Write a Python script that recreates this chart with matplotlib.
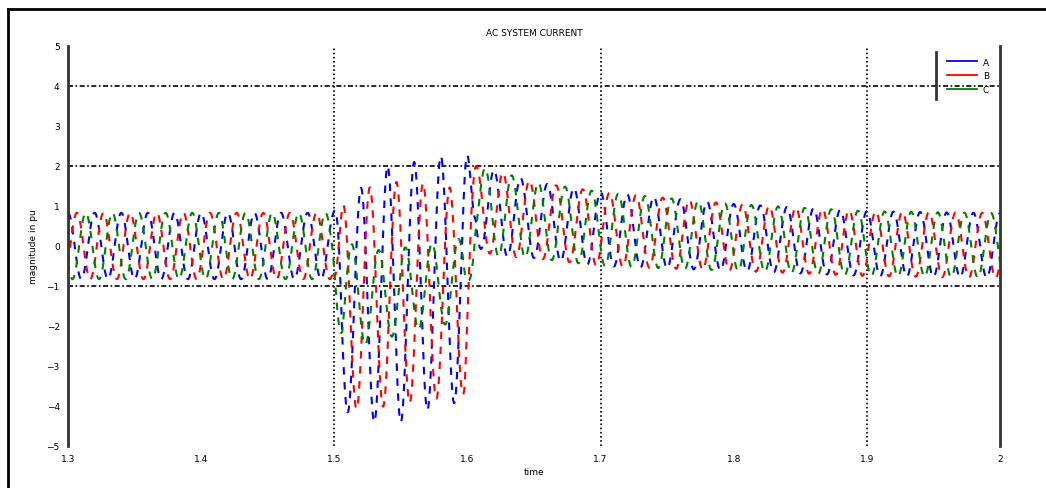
import numpy as np
import matplotlib
matplotlib.use("Agg")
import matplotlib.pyplot as plt
from matplotlib.lines import Line2D

# envelope knots (s) for the three phase currents, in pu
t_knots = [1.300, 1.499, 1.506, 1.520, 1.540, 1.560, 1.580, 1.598,
           1.606, 1.620, 1.650, 1.700, 1.800, 1.900, 2.000]

upper_a = [0.83, 0.83, 1.20, 1.45, 2.00, 2.10, 2.25, 2.35,
           2.00, 1.90, 1.60, 1.35, 1.05, 0.87, 0.82]
lower_a = [-0.83, -0.83, -4.10, -4.30, -4.50, -4.30, -3.90, -3.95,
           0.00, -0.25, -0.30, -0.50, -0.62, -0.75, -0.80]

upper_b = [0.83, 0.83, 1.00, 1.40, 1.60, 1.60, 1.50, 1.40,
           2.00, 1.90, 1.60, 1.35, 1.05, 0.87, 0.82]
lower_b = [-0.83, -0.83, -4.00, -4.10, -4.00, -3.90, -3.80, -3.70,
           0.00, -0.25, -0.30, -0.50, -0.62, -0.75, -0.80]

upper_c = [0.83, 0.83, 0.20, -0.10, -0.10, 0.00, 0.10, 0.20,
           2.00, 1.90, 1.60, 1.35, 1.05, 0.87, 0.82]
lower_c = [-0.83, -0.83, -2.60, -2.50, -2.30, -2.10, -2.00, -1.80,
           0.00, -0.25, -0.30, -0.50, -0.62, -0.75, -0.80]

phase_labels = ["A", "B", "C"]
phase_colors = ["b", "r", "g"]
phase_shift_deg = [0, -120, 120]
f_sys = 50.0

x_ticks = [1.3, 1.4, 1.5, 1.6, 1.7, 1.8, 1.9, 2.0]
x_ticklabels = ["1.3", "1.4", "1.5", "1.6", "1.7", "1.8", "1.9", "2"]
grid_x = [1.5, 1.7, 1.9]
grid_y = [4, 2, -1]


def phase_current(t, upper, lower, shift_deg):
    hi = np.interp(t, t_knots, upper)
    lo = np.interp(t, t_knots, lower)
    mid = 0.5 * (hi + lo)
    half = 0.5 * (hi - lo)
    return mid + half * np.cos(2 * np.pi * f_sys * t + np.deg2rad(shift_deg))


def main():
    t = np.arange(1.3, 2.0 + 1e-9, 0.0001)
    envelopes = [(upper_a, lower_a), (upper_b, lower_b), (upper_c, lower_c)]

    fig = plt.figure(figsize=(10.46, 4.89), dpi=100)
    ax = fig.add_axes([68 / 1046, 1 - 447 / 489, 932 / 1046, 400 / 489])

    handles = []
    for (up, lo), shift, col, lab in zip(envelopes, phase_shift_deg,
                                         phase_colors, phase_labels):
        ax.plot(t, phase_current(t, up, lo, shift), color=col, lw=1.5,
                linestyle=(0, (3.6, 3.6)), label=lab)
        handles.append(Line2D([], [], color=col, lw=1.3))

    for gx in grid_x:
        ax.axvline(gx, color="k", lw=1.2, linestyle=(0, (1, 1.5)), zorder=0)
    for gy in grid_y:
        ax.axhline(gy, color="k", lw=1.2, linestyle=(0, (3, 1.5, 1, 1.5)),
                   zorder=0)

    ax.set_xlim(1.3, 2.0)
    ax.set_ylim(-5, 5)
    ax.set_xticks(x_ticks)
    ax.set_xticklabels(x_ticklabels)
    ax.set_yticks(range(-5, 6))
    ax.tick_params(which="major", length=0, labelsize=6.5, pad=6)
    # short tick marks only where the grid lines sit
    ax.set_xticks(grid_x, minor=True)
    ax.set_yticks(grid_y, minor=True)
    ax.tick_params(which="minor", direction="in", length=9, width=1.4,
                   color="k", bottom=True, top=True, left=True, right=True)

    for side in ["top", "bottom"]:
        ax.spines[side].set_visible(False)
    for side in ["left", "right"]:
        ax.spines[side].set_color("#333333")
        ax.spines[side].set_linewidth(2.0)

    ax.set_title("AC SYSTEM CURRENT", fontsize=6.5, pad=8)
    ax.set_xlabel("time", fontsize=6.5, labelpad=3)
    ax.set_ylabel("magnitude in pu", fontsize=6.5, labelpad=6)

    ax.legend(handles, phase_labels, loc="upper right",
              bbox_to_anchor=(0.995, 0.987), frameon=False, fontsize=6.5,
              handlelength=3.4, handletextpad=0.6, labelspacing=0.55,
              borderaxespad=0.3)
    # left edge of the legend box
    ax.plot([0.9313, 0.9313], [0.8675, 0.985], color="#333333", lw=2.0,
            transform=ax.transAxes, clip_on=False)

    # outer frame lines along the top and left of the figure
    fig.add_artist(Line2D([8 / 1046, 1.0], [1 - 10 / 489, 1 - 10 / 489],
                          color="k", lw=2.0, transform=fig.transFigure))
    fig.add_artist(Line2D([8 / 1046, 8 / 1046], [0.0, 1 - 10 / 489],
                          color="k", lw=2.0, transform=fig.transFigure))

    fig.savefig("out.png", dpi=100)


if __name__ == "__main__":
    main()
